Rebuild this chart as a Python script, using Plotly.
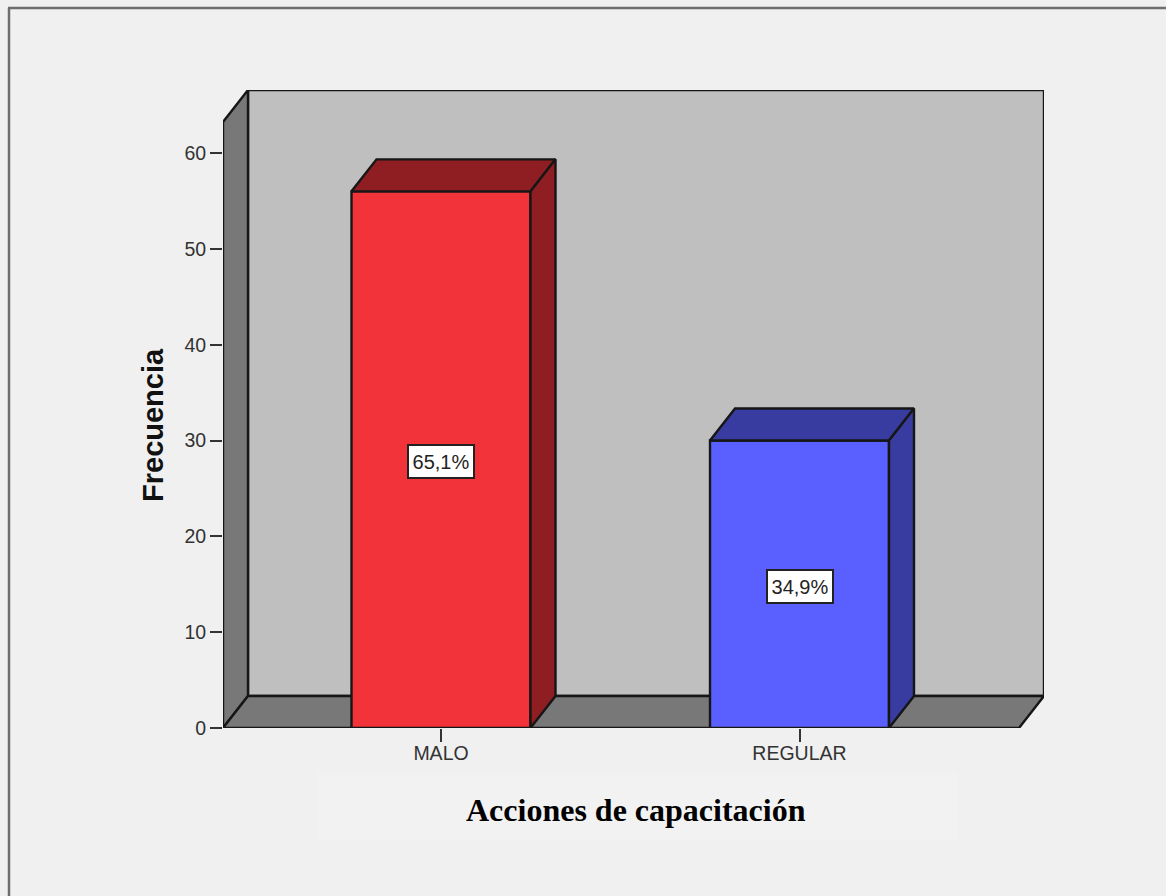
import plotly.graph_objects as go

categories = ["MALO", "REGULAR"]
frequencies = [56, 30]
percent_labels = ["65,1%", "34,9%"]
y_ticks = [0, 10, 20, 30, 40, 50, 60]
x_title = "Acciones de capacitación"
y_title = "Frecuencia"

W, H = 1166, 896
L, R, T, B = 223, 1044, 90, 728
PX_X = 358.5          # pixels per category step
PX_Y = 9.583          # pixels per frequency unit
CENTER0 = 441
BAR_W = 179 / PX_X
DX = 25 / PX_X        # depth offset in x units
DY = 32 / PX_Y        # depth offset in y units

x0 = (L - CENTER0) / PX_X
x1 = (R - CENTER0) / PX_X
y_top = (B - T) / PX_Y
front_right = x1 - DX
wall_top = y_top - DY

BLACK = "#161616"
BG = "#F0F0F0"
EDGE = 2.4
faces = [("#F23339", "#8F1E22"), ("#5A60FF", "#383CA0")]


def poly(pts):
    return "M " + " L ".join(f"{a},{b}" for a, b in pts) + " Z"


def px_x(v):
    return (v - L) / (R - L)


def px_y(v):
    return (B - v) / (B - T)


fig = go.Figure()

fig.add_trace(go.Bar(
    x=[0, 1], y=frequencies, width=BAR_W,
    marker=dict(color=[f[0] for f in faces], line=dict(color=BLACK, width=EDGE)),
    cliponaxis=False, hoverinfo="skip", showlegend=False,
))

for i, (v, (front, dark)) in enumerate(zip(frequencies, faces)):
    a, b = i - BAR_W / 2, i + BAR_W / 2
    top = [(a, v), (a + DX, v + DY), (b + DX, v + DY), (b, v), (a, v)]
    side = [(b, 0), (b + DX, DY), (b + DX, v + DY), (b, v), (b, 0)]
    for pts in (top, side):
        fig.add_trace(go.Scatter(
            x=[p[0] for p in pts], y=[p[1] for p in pts],
            mode="lines", fill="toself", fillcolor=dark,
            line=dict(color=BLACK, width=EDGE), cliponaxis=False,
            hoverinfo="skip", showlegend=False,
        ))

shapes = [
    # lighter band behind the x title
    dict(type="rect", xref="paper", yref="paper", layer="below",
         x0=px_x(318), x1=px_x(958), y0=px_y(840), y1=px_y(773),
         fillcolor="#F2F2F2", line=dict(width=0)),
    # outer frame
    dict(type="line", xref="paper", yref="paper", layer="below",
         x0=px_x(9), x1=px_x(9), y0=px_y(8), y1=px_y(896),
         line=dict(color="#6E6E6E", width=2.5)),
    dict(type="line", xref="paper", yref="paper", layer="below",
         x0=px_x(8), x1=px_x(1166), y0=px_y(8), y1=px_y(8),
         line=dict(color="#6E6E6E", width=2.5)),
    # back wall, left wall, floor
    dict(type="path", layer="below", xref="x", yref="y",
         path=poly([(x0 + DX, DY), (x1, DY), (x1, y_top), (x0 + DX, y_top)]),
         fillcolor="#BFBFBF", line=dict(color=BLACK, width=EDGE)),
    dict(type="path", layer="below", xref="x", yref="y",
         path=poly([(x0, 0), (x0 + DX, DY), (x0 + DX, y_top), (x0, wall_top)]),
         fillcolor="#787878", line=dict(color=BLACK, width=EDGE)),
    dict(type="path", layer="below", xref="x", yref="y",
         path=poly([(x0, 0), (x0 + DX, DY), (x1, DY), (front_right, 0)]),
         fillcolor="#787878", line=dict(color=BLACK, width=EDGE)),
]

annotations = [
    dict(x=i, y=v / 2 - 0.2, xref="x", yref="y", text=t, showarrow=False,
         font=dict(family="Liberation Sans", size=20, color="#222222"),
         bgcolor="#FFFFFF", bordercolor="#222222", borderwidth=2,
         width=62, height=29, align="center", valign="middle")
    for i, (v, t) in enumerate(zip(frequencies, percent_labels))
]
annotations.append(dict(
    x=px_x(636), y=px_y(810), xref="paper", yref="paper", text=f"<b>{x_title}</b>",
    xanchor="center", yanchor="middle",
    showarrow=False, font=dict(family="Liberation Serif", size=32, color="#000000"),
))
annotations.append(dict(
    x=px_x(153), y=px_y(425), xref="paper", yref="paper", text=f"<b>{y_title}</b>",
    xanchor="center", yanchor="middle", textangle=-90,
    showarrow=False, font=dict(family="Liberation Sans", size=29, color="#111111"),
))

fig.update_layout(
    width=W, height=H, autosize=False,
    margin=dict(l=L, r=W - R, t=T, b=H - B, pad=0),
    paper_bgcolor=BG, plot_bgcolor=BG,
    shapes=shapes, annotations=annotations, showlegend=False,
    xaxis=dict(
        range=[x0, x1], tickmode="array", tickvals=[0, 1], ticktext=categories,
        ticks="outside", ticklen=13, tickwidth=2, tickcolor="#333333",
        ticklabelstandoff=-5,
        tickfont=dict(family="Liberation Sans", size=19.5, color="#333333"),
        showgrid=False, zeroline=False, showline=False,
    ),
    yaxis=dict(
        range=[0, y_top], tickmode="array", tickvals=y_ticks,
        ticks="outside", ticklen=12, tickwidth=2, tickcolor="#333333",
        tickfont=dict(family="Liberation Sans", size=19.5, color="#333333"),
        showgrid=False, zeroline=False, showline=False,
    ),
)

fig.write_html(
    "out.html",
    config={"displayModeBar": False},
    post_script="document.body.style.margin='0';document.body.style.background='#F0F0F0';"
                "document.body.style.overflow='hidden';",
)
